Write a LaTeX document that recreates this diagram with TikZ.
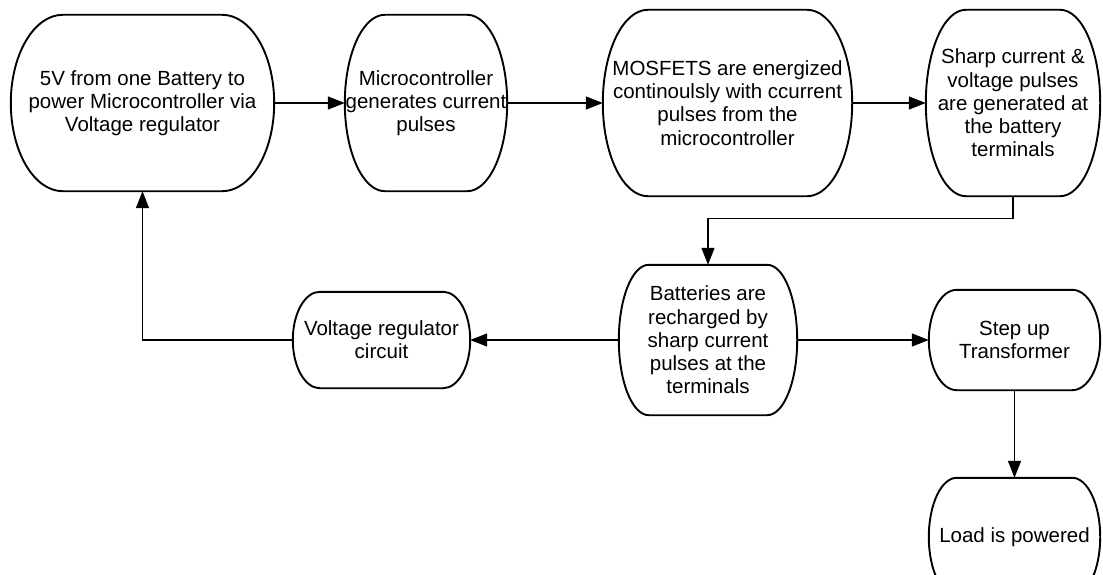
\documentclass[tikz,border=0pt]{standalone}
\usepackage{fontspec}
\setmainfont{Liberation Sans}
\usetikzlibrary{arrows.meta,calc}
\tikzset{
  txt/.style={draw=none, inner sep=0pt, align=center, font=\fontsize{20.5}{23.2}\selectfont},
  termline/.style={draw=black, line width=1.9pt},
  conn/.style={draw=black, line width=1.4pt, -{Triangle[length=17pt,width=13pt]}}
}
\newcommand{\termshape}[2]{%
  \path[termline] let \p1=(#1.north east), \p2=(#1.south west), \n1={(\y1-\y2)/2} in
    ([xshift=#2pt]#1.north west) -- ([xshift=-#2pt]#1.north east)
    arc[start angle=90, end angle=-90, x radius=#2pt, y radius=\n1]
    -- ([xshift=#2pt]#1.south west)
    arc[start angle=270, end angle=90, x radius=#2pt, y radius=\n1] -- cycle;}
\begin{document}
\begin{tikzpicture}[x=1pt,y=1pt]
\useasboundingbox (0,0) rectangle (1103,-575);
\clip (0,0) rectangle (1103,-575);
\fill[white] (0,0) rectangle (1103,-575);
% top row
\node[txt, minimum width=263pt, minimum height=176pt] (n1) at (142.5,-103)
  {5V from one Battery to\\power Microcontroller via\\Voltage regulator};
\node[txt, minimum width=162pt, minimum height=176pt] (n2) at (426,-103)
  {Microcontroller\\generates current\\pulses};
\node[txt, minimum width=249pt, minimum height=186pt] (n3) at (727.5,-103)
  {MOSFETS are energized\\continoulsly with ccurrent\\pulses from the\\microcontroller};
\node[txt, minimum width=174pt, minimum height=186pt] (n4) at (1013,-103)
  {Sharp current \&\\voltage pulses\\are generated at\\the battery\\terminals};
% middle row
\node[txt, minimum width=178pt, minimum height=150pt] (n5) at (708,-340)
  {Batteries are\\recharged by\\sharp current\\pulses at the\\terminals};
\node[txt, minimum width=177pt, minimum height=96pt] (n6) at (381.5,-340)
  {Voltage regulator\\circuit};
\node[txt, minimum width=171pt, minimum height=100pt] (n7) at (1014.5,-340)
  {Step up\\Transformer};
\node[txt, minimum width=171pt, minimum height=118pt] (n8) at (1014.5,-537)
  {Load is powered};
% outlines
\termshape{n1}{52}
\termshape{n2}{40}
\termshape{n3}{45}
\termshape{n4}{40}
\termshape{n5}{30}
\termshape{n6}{27}
\termshape{n7}{28}
\termshape{n8}{28}
% connectors
\coordinate (c1) at ($(n4.south)+(0,-22)$);
\draw[conn] (n1.east) -- (n2.west);
\draw[conn] (n2.east) -- (n3.west);
\draw[conn] (n3.east) -- (n4.west);
\draw[conn] (n4.south) -- (c1) -| (n5.north);
\draw[conn] (n5.west) -- (n6.east);
\draw[conn] (n6.west) -| (n1.south);
\draw[conn] (n5.east) -- (n7.west);
\draw[conn] (n7.south) -- (n8.north);
\end{tikzpicture}
\end{document}
